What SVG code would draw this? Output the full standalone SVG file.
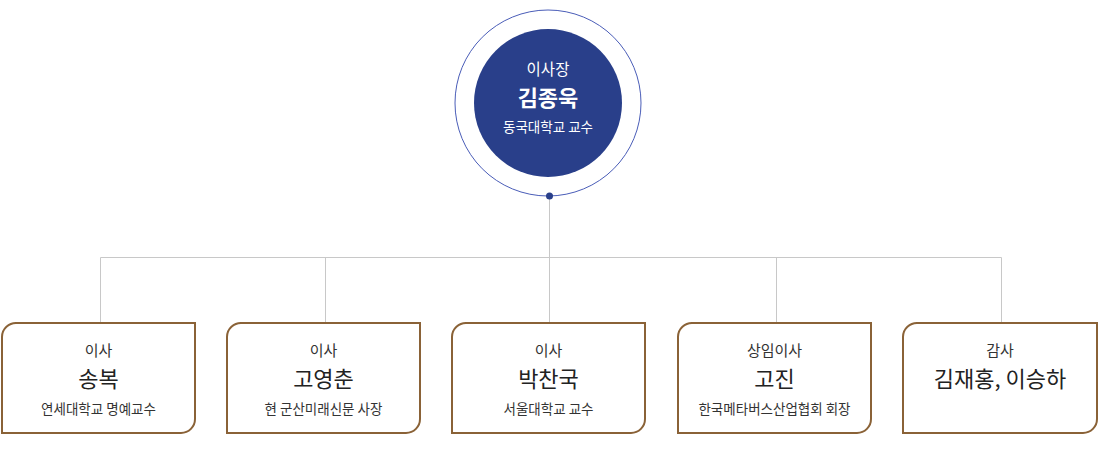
<svg xmlns="http://www.w3.org/2000/svg" width="1100" height="470" viewBox="0 0 1100 470">
<style>
.box{fill:#fff;stroke:#8a6237;stroke-width:2}
.ln{fill:none;stroke:#c8c8c8;stroke-width:1}
text{font-family:"Noto Sans CJK KR","Noto Sans",sans-serif;text-anchor:middle}
.t1{font-size:15px;fill:#333}
.t2{font-size:22px;font-weight:400;fill:#222}
.t3{font-size:13.5px;fill:#333}
.w1{font-size:15.5px;fill:#fff}
.w2{font-size:22px;font-weight:700;fill:#fff}
.w3{font-size:13.5px;fill:#fff}
</style>
<rect width="1100" height="470" fill="#fff"/>
<g id="connectors">
<path class="ln" d="M549.5 196V257.5M100.5 322V257.5H1001.5V322M325.5 257.5V322M549.5 257.5V322M776.5 257.5V322"/>
</g>
<g id="chairman">
<circle cx="548" cy="103" r="93" fill="none" stroke="#4a5db8" stroke-width="1"/>
<circle cx="548" cy="103" r="74" fill="#293f8a"/>
<circle cx="549.5" cy="196" r="3.5" fill="#293f8a"/>
<text class="w1" x="548" y="75">이사장</text>
<text class="w2" x="548" y="106">김종욱</text>
<text class="w3" x="548" y="132">동국대학교 교수</text>
</g>
<g id="n1">
<path class="box" d="M17 323H195V419A14 14 0 0 1 181 433H2V337A14 14 0 0 1 17 323Z"/>
<text class="t1" x="98.5" y="356">이사</text>
<text class="t2" x="98.5" y="387">송복</text>
<text class="t3" x="98.5" y="414">연세대학교 명예교수</text>
</g>
<g id="n2">
<path class="box" d="M242 323H420V419A14 14 0 0 1 406 433H227V337A14 14 0 0 1 242 323Z"/>
<text class="t1" x="323.5" y="356">이사</text>
<text class="t2" x="323.5" y="387">고영춘</text>
<text class="t3" x="323.5" y="414">현 군산미래신문 사장</text>
</g>
<g id="n3">
<path class="box" d="M467 323H645V419A14 14 0 0 1 631 433H452V337A14 14 0 0 1 467 323Z"/>
<text class="t1" x="548.5" y="356">이사</text>
<text class="t2" x="548.5" y="387">박찬국</text>
<text class="t3" x="548.5" y="414">서울대학교 교수</text>
</g>
<g id="n4">
<path class="box" d="M693 323H871V419A14 14 0 0 1 857 433H678V337A14 14 0 0 1 693 323Z"/>
<text class="t1" x="774.5" y="356">상임이사</text>
<text class="t2" x="774.5" y="387">고진</text>
<text class="t3" x="774.5" y="414">한국메타버스산업협회 회장</text>
</g>
<g id="n5">
<path class="box" d="M918 323H1097V419A14 14 0 0 1 1083 433H903V337A14 14 0 0 1 918 323Z"/>
<text class="t1" x="1000" y="356">감사</text>
<text class="t2" x="1000" y="387">김재홍, 이승하</text>
</g>
</svg>
